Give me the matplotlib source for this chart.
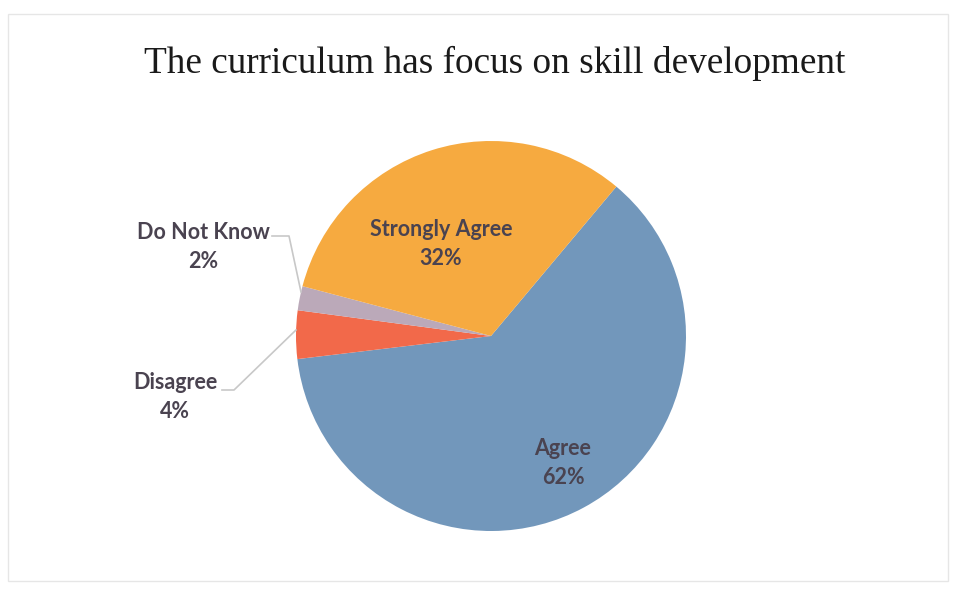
import matplotlib.pyplot as plt
from matplotlib.patches import Rectangle

# slices in clockwise order starting from the upper-right edge
labels = ['Agree', 'Disagree', 'Do Not Know', 'Strongly Agree']
values = [62, 4, 2, 32]
colors = ['#7297bb', '#f2694a', '#bba9b9', '#f6aa40']

fig = plt.figure(figsize=(9.61, 5.89), dpi=100)
ax = fig.add_axes([0, 0, 1, 1])

wedges, _ = ax.pie(values, colors=colors, startangle=50, counterclock=False,
                   center=(491, 253), radius=195, frame=True)
ax.set_xlim(0, 961)
ax.set_ylim(0, 589)
ax.set_aspect('equal')
ax.axis('off')

# faint scan frame
ax.add_patch(Rectangle((8, 8), 940, 567, fill=False, ec='#e6e6e6', lw=1))

fig.text(495 / 961, 1 - 63 / 589, 'The curriculum has focus on skill development',
         ha='center', va='center', family='Liberation Serif', fontsize=26.8,
         color='#1a1a1a')

lab_kw = dict(ha='center', va='center', family='Lato', fontsize=15.5,
              color='#4a4350', fontweight='bold', linespacing=1.5)

# inside labels
ax.text(441, 589 - 244, 'Strongly Agree\n32%', **lab_kw)
ax.text(563, 589 - 463, 'Agree\n62%', **lab_kw)

# outside labels with leader lines
ax.text(203, 589 - 247, 'Do Not Know\n2%', **lab_kw)
ax.plot([272, 289, 301], [589 - 236, 589 - 236, 589 - 292], color='#c8c8c8', lw=1.2)
ax.text(175, 589 - 397, 'Disagree\n4%', **lab_kw)
ax.plot([222, 234, 296], [589 - 390, 589 - 390, 589 - 330], color='#c8c8c8', lw=1.2)

fig.savefig('out.png', dpi=100)
